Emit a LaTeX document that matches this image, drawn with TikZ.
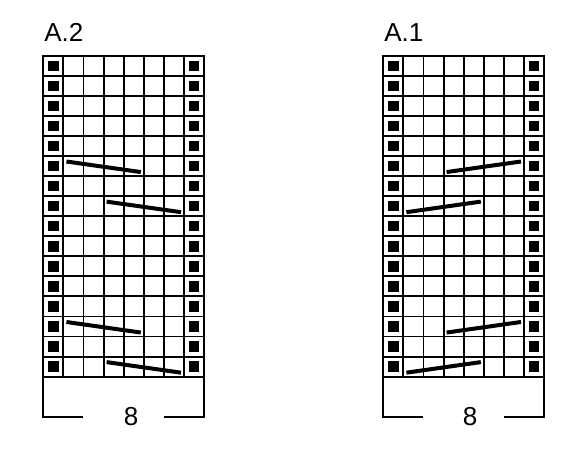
\documentclass[tikz,border=0pt]{standalone}
\usepackage{fontspec}
\setmainfont{Liberation Sans}
\tikzset{
  gridline/.style={line width=1.9pt, black},
  cable/.style={line width=4pt, black},
  edgesq/.style={fill=black},
  lbl/.style={font=\fontsize{26}{30}\selectfont, inner sep=0pt, outer sep=0pt},
}
\begin{document}
\begin{tikzpicture}[x=1pt,y=-1pt]
\useasboundingbox (0,0) rectangle (575,450);
% two charts: A.2 (left, cables fall to the right) and A.1 (right, cables rise)
\foreach \ox in {43.3, 383.3} {
  \begin{scope}[shift={(\ox,55.7)}]
    % grid
    \foreach \i in {0,...,8} \draw[gridline] (\i*20.1,0) -- (\i*20.1,320.96);
    \foreach \j in {0,...,16} \draw[gridline] (-0.95,\j*20.06) -- (161.75,\j*20.06);
    % edge stitches
    \foreach \j in {0,...,15} {
      \fill[edgesq] (4.8,\j*20.06+4.8) rectangle ++(10.5,10.5);
      \fill[edgesq] (145.5,\j*20.06+4.8) rectangle ++(10.5,10.5);
    }
    % bracket below
    \draw[gridline] (0,320.96) -- (0,361.3) -- (40,361.3);
    \draw[gridline] (120.7,361.3) -- (160.8,361.3) -- (160.8,320.96);
  \end{scope}
}
% cables of A.2
\begin{scope}[shift={(43.3,55.7)}]
  \foreach \r/\a/\b in {6/2/5, 8/4/7, 14/2/5, 16/4/7}
    \draw[cable] ({20.1*(\a-1)+3},{20.06*(\r-1)+5.5}) -- ({20.1*\b-3},{20.06*\r-4});
\end{scope}
% cables of A.1
\begin{scope}[shift={(383.3,55.7)}]
  \foreach \r/\a/\b in {6/4/7, 8/2/5, 14/4/7, 16/2/5}
    \draw[cable] ({20.1*(\a-1)+3},{20.06*\r-4}) -- ({20.1*\b-3},{20.06*(\r-1)+5.5});
\end{scope}
% labels
\node[lbl, anchor=base west] (titleA2) at (44.3,41.7) {A.2};
\node[lbl, anchor=base west] (titleA1) at (384.3,41.7) {A.1};
\node[lbl, anchor=base] (widthA2) at (131,425) {8};
\node[lbl, anchor=base] (widthA1) at (470,425) {8};
\end{tikzpicture}
\end{document}
